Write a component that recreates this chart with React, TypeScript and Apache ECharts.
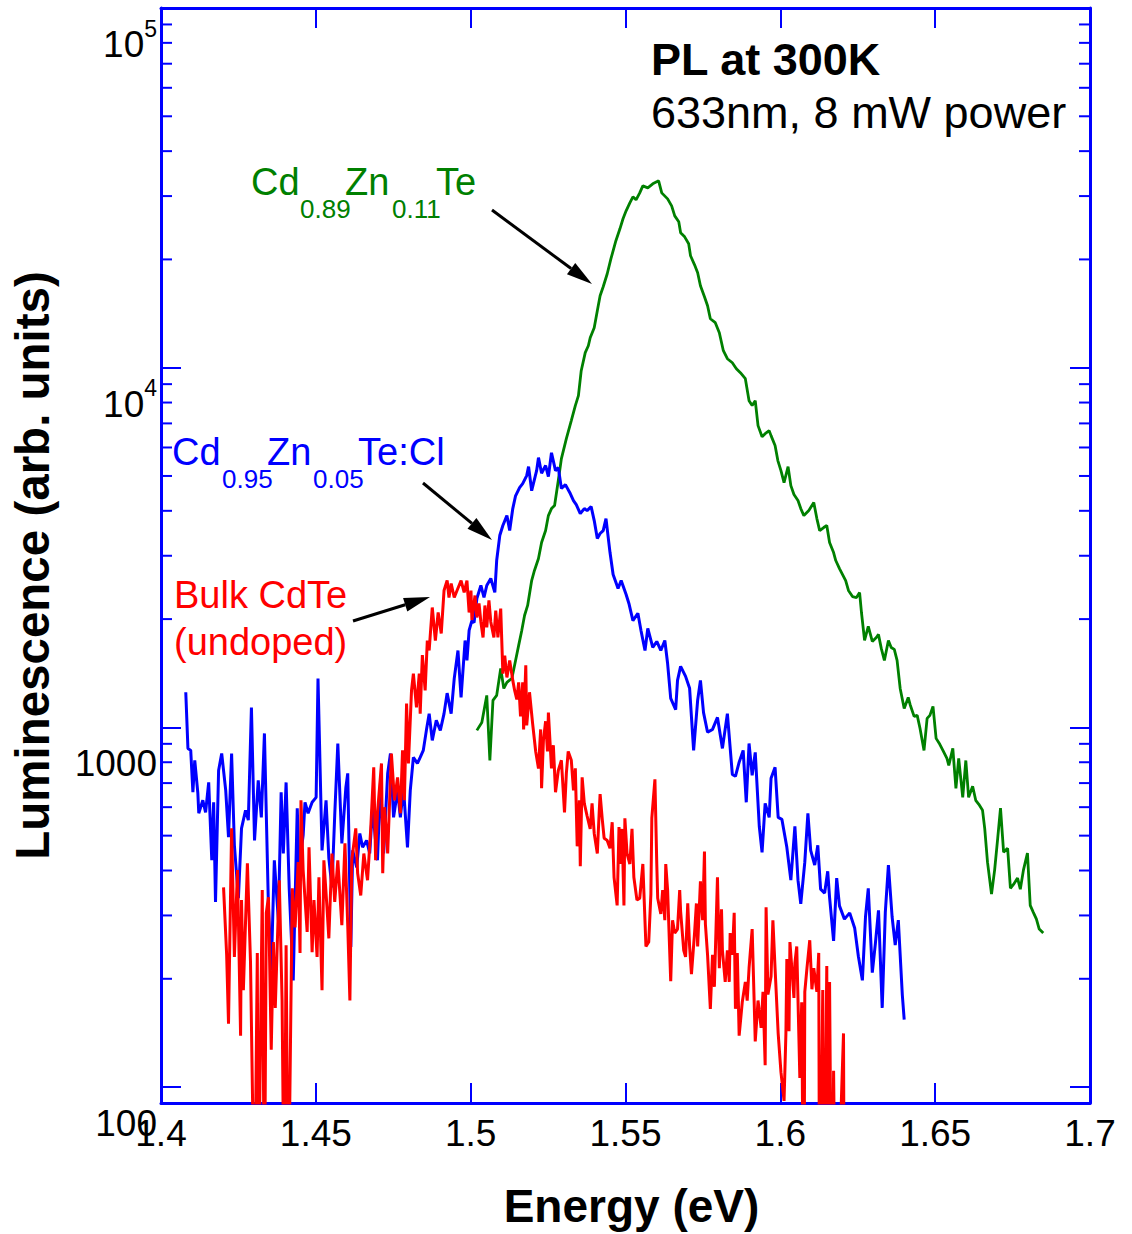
import React, { useEffect, useRef } from "react";
import * as echarts from "echarts";

// ---- Data (energy in eV, luminescence in arb. units) ----
const greenEnergy = [1.5020,1.5036,1.5052,1.5062,1.5072,1.5084,1.5097,1.5107,1.5117,1.5133,
1.5145,1.5155,1.5165,1.5174,1.5184,1.5197,1.5206,1.5219,1.5229,1.5242,
1.5251,1.5261,1.5271,1.5283,1.5293,1.5309,1.5325,1.5338,1.5348,1.5357,
1.5370,1.5380,1.5386,1.5399,1.5409,1.5418,1.5428,1.5441,1.5453,1.5469,
1.5482,1.5492,1.5502,1.5514,1.5524,1.5534,1.5546,1.5556,1.5572,1.5588,
1.5607,1.5617,1.5636,1.5649,1.5659,1.5672,1.5678,1.5691,1.5704,1.5710,
1.5723,1.5733,1.5742,1.5755,1.5765,1.5774,1.5790,1.5803,1.5816,1.5829,
1.5845,1.5858,1.5871,1.5887,1.5899,1.5909,1.5919,1.5928,1.5941,1.5951,
1.5964,1.5970,1.5983,1.5992,1.6002,1.6012,1.6025,1.6034,1.6044,1.6057,
1.6066,1.6076,1.6092,1.6108,1.6118,1.6127,1.6140,1.6150,1.6159,1.6172,
1.6179,1.6191,1.6211,1.6220,1.6233,1.6246,1.6256,1.6262,1.6272,1.6284,
1.6297,1.6310,1.6317,1.6326,1.6336,1.6349,1.6358,1.6368,1.6377,1.6387,
1.6400,1.6413,1.6419,1.6432,1.6442,1.6451,1.6464,1.6474,1.6483,1.6493,
1.6503,1.6515,1.6525,1.6538,1.6544,1.6557,1.6567,1.6576,1.6589,1.6599,
1.6608,1.6621,1.6631,1.6641,1.6653,1.6660,1.6669,1.6682,1.6692,1.6702,
1.6711,1.6721,1.6734,1.6743,1.6753,1.6766,1.6775,1.6785,1.6798,1.6807,
1.6817,1.6827,1.6836,1.6849];
const greenLum = [981,1032,1227,809,1189,1227,1458,1283,1334,1368,
1535,1690,1860,2047,2183,2560,2730,2948,3265,3525,
3880,4058,4137,4855,5588,6350,7127,7845,8363,9810,
11010,11510,12110,12915,14400,15850,16790,18250,20090,22540,
24330,25940,27300,28720,29850,29280,30620,32030,31620,32440,
33070,30620,29470,28180,26430,25440,23710,23110,22100,20470,
19320,18360,16900,15750,14870,13680,13340,12510,11150,10590,
10320,9937,9685,9320,8096,7845,8096,6902,6431,6556,
6683,6473,6073,5517,5174,4794,5309,4701,4440,4273,
4058,3880,4007,4217,3806,3525,3594,3640,3265,3063,
2910,2764,2560,2402,2311,2296,2371,2086,1745,1908,
1733,1778,1813,1658,1535,1745,1668,1647,1535,1283,
1129,1211,1158,1073,1080,994,863,1059,1080,1144,
932,897,863,820,784,874,677,820,639,809,
639,686,627,611,588,524,422,344,401,492,
596,450,461,357,366,381,355,401,447,320,
306,293,275,268];

const blueEnergy = [1.4080,1.4087,1.4096,1.4103,1.4109,1.4119,1.4122,1.4135,1.4144,1.4154,
1.4164,1.4170,1.4176,1.4186,1.4196,1.4209,1.4218,1.4228,1.4237,1.4250,
1.4260,1.4273,1.4282,1.4292,1.4302,1.4314,1.4324,1.4334,1.4347,1.4356,
1.4366,1.4379,1.4388,1.4395,1.4404,1.4414,1.4427,1.4440,1.4446,1.4459,
1.4465,1.4475,1.4488,1.4501,1.4507,1.4520,1.4533,1.4542,1.4552,1.4561,
1.4571,1.4584,1.4597,1.4603,1.4613,1.4619,1.4632,1.4642,1.4651,1.4664,
1.4674,1.4683,1.4699,1.4709,1.4719,1.4732,1.4741,1.4751,1.4764,1.4773,
1.4783,1.4796,1.4805,1.4815,1.4828,1.4837,1.4847,1.4857,1.4866,1.4876,
1.4889,1.4902,1.4914,1.4924,1.4937,1.4947,1.4959,1.4969,1.4982,1.4988,
1.4995,1.5004,1.5011,1.5020,1.5033,1.5043,1.5052,1.5065,1.5078,1.5084,
1.5094,1.5104,1.5117,1.5126,1.5136,1.5145,1.5158,1.5168,1.5181,1.5187,
1.5197,1.5213,1.5219,1.5229,1.5242,1.5251,1.5261,1.5274,1.5283,1.5293,
1.5306,1.5322,1.5332,1.5341,1.5354,1.5367,1.5376,1.5389,1.5399,1.5409,
1.5418,1.5428,1.5437,1.5450,1.5460,1.5476,1.5486,1.5502,1.5511,1.5524,
1.5540,1.5550,1.5563,1.5572,1.5588,1.5601,1.5614,1.5627,1.5636,1.5646,
1.5662,1.5668,1.5678,1.5694,1.5707,1.5720,1.5733,1.5742,1.5752,1.5765,
1.5781,1.5797,1.5813,1.5829,1.5845,1.5855,1.5867,1.5880,1.5890,1.5899,
1.5909,1.5919,1.5932,1.5941,1.5951,1.5964,1.5970,1.5983,1.5993,1.6005,
1.6021,1.6034,1.6047,1.6057,1.6066,1.6079,1.6089,1.6098,1.6111,1.6121,
1.6130,1.6143,1.6153,1.6159,1.6172,1.6182,1.6191,1.6207,1.6224,1.6240,
1.6252,1.6265,1.6275,1.6284,1.6297,1.6307,1.6317,1.6329,1.6339,1.6349,
1.6361,1.6371,1.6381,1.6394,1.6400];
const blueLum = [1252,874,863,660,810,656,577,627,580,703,
427,619,327,759,846,668,495,846,470,335,
524,588,552,1136,485,712,562,962,316,211,
427,291,660,446,703,357,198,596,408,501,
619,577,619,639,1368,455,627,433,359,570,
902,476,681,745,245,455,408,507,464,485,
446,596,427,712,446,745,846,562,668,562,
681,464,668,825,794,825,863,981,1092,920,
1046,981,1092,1245,1092,1368,1636,1212,1744,1535,
1860,1980,1956,2282,2480,2297,2480,2594,2372,2910,
3414,3640,3880,3525,4058,4404,4642,4760,5010,5309,
4550,5174,5623,5090,5344,4980,5800,5174,5275,4613,
4730,4460,4270,4160,3930,4058,4005,4110,3758,3350,
3460,3525,3806,3062,2660,2432,2560,2341,2211,1980,
2076,1860,1636,1884,1668,1733,1636,1744,1505,1204,
1121,1351,1477,1386,1284,863,1190,1351,1099,969,
987,1066,874,1092,740,731,800,863,619,902,
736,852,531,449,615,562,722,774,562,555,
464,376,531,376,323,422,577,455,414,470,
355,346,398,337,255,381,319,293,305,277,
231,198,297,357,208,251,310,166,306,414,
297,248,291,180,154];

const redEnergy = [1.4202,1.4212,1.4218,1.4228,1.4237,1.4247,1.4257,1.4260,1.4266,1.4279,
1.4289,1.4302,1.4311,1.4314,1.4327,1.4334,1.4340,1.4347,1.4356,1.4363,
1.4369,1.4382,1.4391,1.4398,1.4404,1.4411,1.4424,1.4433,1.4443,1.4449,
1.4452,1.4459,1.4472,1.4478,1.4488,1.4494,1.4504,1.4510,1.4520,1.4526,
1.4536,1.4542,1.4552,1.4561,1.4571,1.4584,1.4594,1.4603,1.4610,1.4616,
1.4629,1.4635,1.4645,1.4655,1.4667,1.4677,1.4687,1.4693,1.4699,1.4712,
1.4716,1.4722,1.4732,1.4744,1.4754,1.4764,1.4773,1.4780,1.4786,1.4793,
1.4799,1.4809,1.4815,1.4825,1.4834,1.4837,1.4844,1.4853,1.4860,1.4866,
1.4876,1.4886,1.4895,1.4905,1.4914,1.4924,1.4930,1.4937,1.4947,1.4956,
1.4969,1.4979,1.4988,1.4995,1.5001,1.5004,1.5014,1.5020,1.5027,1.5033,
1.5040,1.5046,1.5052,1.5059,1.5065,1.5075,1.5081,1.5088,1.5097,1.5104,
1.5110,1.5117,1.5126,1.5136,1.5142,1.5149,1.5155,1.5161,1.5168,1.5171,
1.5178,1.5181,1.5190,1.5200,1.5210,1.5219,1.5226,1.5229,1.5235,1.5242,
1.5248,1.5251,1.5261,1.5267,1.5274,1.5283,1.5293,1.5303,1.5309,1.5315,
1.5325,1.5332,1.5338,1.5344,1.5351,1.5354,1.5360,1.5367,1.5376,1.5386,
1.5392,1.5399,1.5409,1.5415,1.5418,1.5425,1.5431,1.5441,1.5450,1.5457,
1.5463,1.5473,1.5479,1.5482,1.5489,1.5495,1.5498,1.5505,1.5514,1.5521,
1.5527,1.5537,1.5546,1.5556,1.5566,1.5575,1.5582,1.5585,1.5595,1.5601,
1.5604,1.5614,1.5620,1.5627,1.5630,1.5636,1.5646,1.5652,1.5659,1.5668,
1.5675,1.5678,1.5688,1.5694,1.5701,1.5707,1.5713,1.5723,1.5729,1.5733,
1.5742,1.5749,1.5755,1.5758,1.5765,1.5774,1.5781,1.5787,1.5797,1.5803,
1.5810,1.5813,1.5822,1.5829,1.5835,1.5838,1.5845,1.5851,1.5855,1.5861,
1.5867,1.5877,1.5887,1.5893,1.5899,1.5909,1.5919,1.5928,1.5938,1.5944,
1.5951,1.5954,1.5960,1.5970,1.5976,1.5983,1.5993,1.6002,1.6012,1.6018,
1.6021,1.6028,1.6031,1.6044,1.6047,1.6053,1.6063,1.6069,1.6076,1.6079,
1.6086,1.6095,1.6102,1.6108,1.6118,1.6124,1.6127,1.6137,1.6140,1.6150,
1.6153,1.6159,1.6166,1.6172,1.6179,1.6204,1.6207];
const redLum = [359,233,150,524,230,401,139,331,186,419,
223,40,236,40,353,40,305,337,127,253,
166,376,174,40,248,40,357,278,422,236,
627,401,270,464,237,331,230,383,186,427,
316,259,446,327,427,282,476,282,174,427,
524,393,341,446,376,517,774,427,577,794,
393,600,446,846,627,726,577,863,627,1165,
794,1267,1411,1136,1411,1092,1588,1267,1744,1636,
2154,1744,2086,1824,2401,2560,2297,2511,2297,2401,
2560,2372,2560,2086,2401,1989,2326,2021,2211,1964,
1778,2182,1896,2253,1964,1778,2113,1778,2140,1411,
1583,1377,1535,1351,1267,1196,1334,1073,1334,987,
1487,1013,1252,1026,857,769,987,677,920,1040,
857,1099,769,892,660,759,810,580,745,857,
810,668,769,467,627,411,726,615,567,522,
615,507,446,580,652,555,492,485,461,545,
383,320,528,417,522,320,559,446,417,522,
383,331,335,417,246,253,344,559,717,417,
335,303,353,291,417,353,197,291,268,275,
353,308,240,230,324,246,206,268,324,246,
373,291,452,284,233,165,233,190,383,214,
312,240,196,240,196,268,233,305,165,236,
139,172,196,174,214,275,134,174,146,184,
115,316,181,203,291,214,141,110,91.5,141,
227,143,253,177,221,246,106,172,30,184,
214,256,187,214,184,236,30,186,30,217,
30,196,30,111,30,141,30];

// Axis values
const xMin = 1.4, xMax = 1.7, xStep = 0.05;
const yMin = 90.3, yMax = 100000;
const yMinorTicks = [200,300,400,500,600,700,800,900,
  2000,3000,4000,5000,6000,7000,8000,9000,
  20000,30000,40000,50000,60000,70000,80000,90000];

// Texts
const xTitle = "Energy (eV)";
const yTitle = "Luminescence (arb. units)";
const infoTitle = "PL at 300K";
const infoSub = "633nm, 8 mW power";

const FONT = '"Liberation Sans", Arial, Helvetica, sans-serif';
const AXIS_BLUE = "#0000ff";
const GREEN = "#008000";
const RED = "#ff0000";
const BLUE = "#0000ff";

function zip(a: number[], b: number[]) {
  return a.map((v, i) => [v, b[i]]);
}

function txt(text: string, x: number, y: number, size: number, color: string, bold = false) {
  return {
    type: "text",
    x,
    y,
    silent: true,
    style: {
      text,
      fill: color,
      fontSize: size,
      fontWeight: bold ? "bold" : "normal",
      fontFamily: FONT,
      align: "left",
      verticalAlign: "middle",
    },
  };
}

function arrow(x1: number, y1: number, x2: number, y2: number) {
  const dx = x2 - x1, dy = y2 - y1;
  const len = Math.sqrt(dx * dx + dy * dy);
  const ux = dx / len, uy = dy / len;
  const hl = 26, hw = 7;
  const bx = x2 - ux * hl, by = y2 - uy * hl;
  const nx = -uy * hw, ny = ux * hw;
  return [
    { type: "line", silent: true, shape: { x1, y1, x2: bx, y2: by }, style: { stroke: "#000", lineWidth: 3 } },
    {
      type: "polygon",
      silent: true,
      shape: { points: [[x2, y2], [bx + nx, by + ny], [bx - nx, by - ny]] },
      style: { fill: "#000" },
    },
  ];
}

export default function App() {
  const ref = useRef<HTMLDivElement>(null);

  useEffect(() => {
    if (!ref.current) return;
    const chart = echarts.init(ref.current, null, { renderer: "svg" });

    const axisLine = { show: true, onZero: false, lineStyle: { color: AXIS_BLUE, width: 3 } };
    const axisTick = { show: true, inside: true, length: 20, lineStyle: { color: AXIS_BLUE, width: 2 } };

    const yLabelFormatter = (v: number) => {
      const lg = Math.log10(v);
      const p = Math.round(lg);
      if (Math.abs(lg - p) > 1e-6) return "";
      if (p >= 4) return "{b|10}{s|" + p + "}";
      return "{b|" + Math.round(v) + "}";
    };

    const option: any = {
      animation: false,
      backgroundColor: "#ffffff",
      grid: { left: 155, right: 42, top: 8, bottom: 131, containLabel: false },
      xAxis: [
        {
          type: "value",
          min: xMin,
          max: xMax,
          interval: xStep,
          position: "bottom",
          axisLine,
          axisTick,
          splitLine: { show: false },
          axisLabel: {
            show: true,
            margin: 12,
            color: "#000",
            fontSize: 37,
            fontFamily: FONT,
            formatter: (v: number) => String(Math.round(v * 100) / 100),
          },
          name: xTitle,
          nameLocation: "middle",
          nameGap: 80,
          nameTextStyle: { fontSize: 46, fontWeight: "bold", color: "#000", fontFamily: FONT, padding: [0, 0, 0, 12] },
        },
        {
          type: "value",
          min: xMin,
          max: xMax,
          interval: xStep,
          position: "top",
          axisLine,
          axisTick,
          splitLine: { show: false },
          axisLabel: { show: false },
        },
      ],
      yAxis: [
        {
          type: "log",
          logBase: 10,
          min: yMin,
          max: yMax,
          position: "left",
          axisLine,
          axisTick,
          splitLine: { show: false },
          minorTick: { show: false },
          axisLabel: {
            show: true,
            margin: 4,
            padding: [58, 0, 0, 0],
            formatter: yLabelFormatter,
            rich: {
              b: { fontSize: 37, fontFamily: FONT, color: "#000", lineHeight: 40, padding: [9, 0, 0, 0], verticalAlign: "top" },
              s: { fontSize: 23, fontFamily: FONT, color: "#000", lineHeight: 23, verticalAlign: "top" },
            },
          },
          name: yTitle,
          nameLocation: "middle",
          nameGap: 105,
          nameTextStyle: { fontSize: 47.5, fontWeight: "bold", color: "#000", fontFamily: FONT, padding: [0, 20, 0, 0] },
        },
        {
          type: "log",
          logBase: 10,
          min: yMin,
          max: yMax,
          position: "right",
          axisLine,
          axisTick,
          splitLine: { show: false },
          minorTick: { show: false },
          axisLabel: { show: false },
        },
      ],
      series: [
        {
          type: "custom",
          name: "minorTicks",
          xAxisIndex: 0,
          yAxisIndex: 0,
          silent: true,
          clip: false,
          z: 5,
          data: yMinorTicks.map((v) => [xMin, v]),
          renderItem: (params: any, api: any) => {
            const pt = api.coord([xMin, api.value(1)]);
            const cs = params.coordSys;
            const style = { stroke: AXIS_BLUE, lineWidth: 2 };
            return {
              type: "group",
              children: [
                { type: "line", shape: { x1: cs.x, y1: pt[1], x2: cs.x + 11, y2: pt[1] }, style },
                { type: "line", shape: { x1: cs.x + cs.width - 11, y1: pt[1], x2: cs.x + cs.width, y2: pt[1] }, style },
              ],
            };
          },
        },
        {
          type: "line",
          name: "Cd0.89Zn0.11Te",
          data: zip(greenEnergy, greenLum),
          showSymbol: false,
          symbol: "none",
          clip: true,
          lineStyle: { color: GREEN, width: 2.8 },
          itemStyle: { color: GREEN },
          z: 2,
        },
        {
          type: "line",
          name: "Cd0.95Zn0.05Te:Cl",
          data: zip(blueEnergy, blueLum),
          showSymbol: false,
          symbol: "none",
          clip: true,
          lineStyle: { color: BLUE, width: 3 },
          itemStyle: { color: BLUE },
          z: 3,
        },
        {
          type: "line",
          name: "Bulk CdTe (undoped)",
          data: zip(redEnergy, redLum),
          showSymbol: false,
          symbol: "none",
          clip: true,
          lineStyle: { color: RED, width: 3 },
          itemStyle: { color: RED },
          z: 4,
        },
      ],
      graphic: [
        txt(infoTitle, 651, 59, 45, "#000", true),
        txt(infoSub, 651, 112, 45, "#000"),
        // green label
        txt("Cd", 251, 182, 38, GREEN),
        txt("0.89", 300, 209, 26, GREEN),
        txt("Zn", 345, 182, 38, GREEN),
        txt("0.11", 392, 209, 26, GREEN),
        txt("Te", 436, 182, 38, GREEN),
        // blue label
        txt("Cd", 172, 452, 38, BLUE),
        txt("0.95", 222, 479, 26, BLUE),
        txt("Zn", 267, 452, 38, BLUE),
        txt("0.05", 313, 479, 26, BLUE),
        txt("Te:Cl", 358, 452, 38, BLUE),
        // red label
        txt("Bulk CdTe", 174, 595, 38, RED),
        txt("(undoped)", 174, 642, 38, RED),
        ...arrow(492, 210, 592, 284),
        ...arrow(423, 483, 492, 540),
        ...arrow(353, 621, 430, 597),
      ],
    };

    chart.setOption(option);
    return () => chart.dispose();
  }, []);

  return (
    <div
      ref={ref}
      style={{ position: "absolute", left: 0, top: 0, width: 1132, height: 1234, background: "#fff" }}
    />
  );
}
